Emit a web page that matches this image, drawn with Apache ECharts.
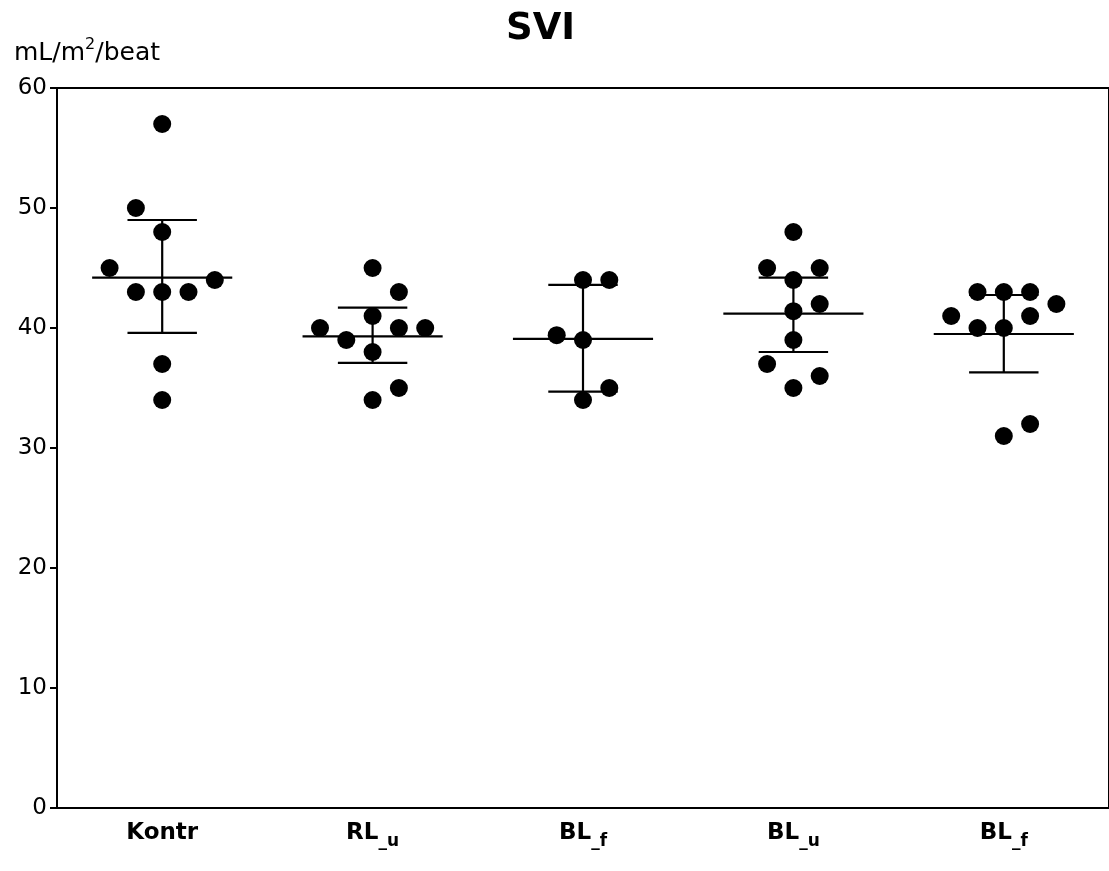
<!DOCTYPE html>
<html>
<head>
<meta charset="utf-8">
<script src="https://cdn.jsdelivr.net/npm/echarts@6/dist/echarts.min.js"></script>
<style>
  html, body { margin: 0; padding: 0; background: #fff; }
  #chart { width: 1109px; height: 871px; }
</style>
</head>
<body>
<div id="chart"></div>
<script>
// Group names along the x axis
const categories = ['Kontr', 'RL_u', 'BL_f', 'BL_u', 'BL_f'];
// Label parts: main text and subscript
const labelMain = ['Kontr', 'RL', 'BL', 'BL', 'BL'];
const labelSub = ['', '_u', '_f', '_u', '_f'];

// Individual SVI values per group (mL/m2/beat) and their column slot within the group
const kontrValues = [57, 50, 48, 45, 44, 43, 43, 43, 37, 34];
const kontrSlots  = [0, -1, 0, -2, 2, -1, 0, 1, 0, 0];
const rlUValues   = [45, 43, 41, 40, 40, 40, 39, 38, 35, 34];
const rlUSlots    = [0, 1, 0, -2, 1, 2, -1, 0, 1, 0];
const blFValues   = [44, 44, 39.4, 39, 35, 34];
const blFSlots    = [0, 1, -1, 0, 1, 0];
const blUValues   = [48, 45, 45, 44, 42, 41.4, 39, 37, 36, 35];
const blUSlots    = [0, -1, 1, 0, 1, 0, 0, -1, 1, 0];
const blF2Values  = [43, 43, 43, 42, 41, 41, 40, 40, 32, 31];
const blF2Slots   = [-1, 0, 1, 2, -2, 1, -1, 0, 1, 0];

// Centre line and error bar limits per group
const centerLine = [44.2, 39.3, 39.1, 41.2, 39.5];
const barLow     = [39.6, 37.1, 34.7, 38.0, 36.3];
const barHigh    = [49.0, 41.7, 43.6, 44.2, 42.75];

// Y axis ticks
const yTicks = [0, 10, 20, 30, 40, 50, 60];

const groupValues = [kontrValues, rlUValues, blFValues, blUValues, blF2Values];
const groupSlots = [kontrSlots, rlUSlots, blFSlots, blUSlots, blF2Slots];
const slotStep = 0.125; // horizontal spacing of side-by-side points, in category units

const points = [];
groupValues.forEach(function (vals, g) {
  vals.forEach(function (v, i) {
    points.push([g + groupSlots[g][i] * slotStep, v]);
  });
});

const barData = categories.map(function (c, i) {
  return [i, centerLine[i], barLow[i], barHigh[i]];
});

const FONT = 'DejaVu Sans';

const chart = echarts.init(document.getElementById('chart'), null, { renderer: 'canvas' });

chart.setOption({
  backgroundColor: '#ffffff',
  animation: false,
  title: [
    {
      text: 'SVI',
      left: 506,
      top: 11,
      padding: 0,
      textStyle: { fontFamily: FONT, fontWeight: 'bold', fontSize: 37, color: '#000' }
    },
    {
      text: 'mL/m{sup|2}/beat',
      left: 14,
      top: 37,
      padding: 0,
      textStyle: {
        fontFamily: FONT, fontWeight: 'normal', fontSize: 25, color: '#000',
        rich: {
          sup: { fontFamily: FONT, fontWeight: 'normal', fontSize: 16, color: '#000', verticalAlign: 'top', lineHeight: 32 }
        }
      }
    }
  ],
  grid: {
    left: 57,
    right: -3,
    top: 88,
    bottom: 63,
    show: true,
    borderColor: '#000',
    borderWidth: 2,
    backgroundColor: 'transparent'
  },
  xAxis: [
    {
      type: 'category',
      data: categories,
      position: 'bottom',
      axisLine: { show: true, lineStyle: { color: '#000', width: 2 } },
      axisTick: { show: false },
      splitLine: { show: false },
      axisLabel: {
        margin: 8,
        formatter: function (value, idx) {
          return labelSub[idx] ? labelMain[idx] + '{sub|' + labelSub[idx] + '}' : labelMain[idx];
        },
        fontFamily: FONT, fontWeight: 'bold', fontSize: 23, color: '#000',
        lineHeight: 34,
        rich: {
          sub: { fontFamily: FONT, fontWeight: 'bold', fontSize: 17, color: '#000', verticalAlign: 'bottom', lineHeight: 17 }
        }
      }
    },
    {
      type: 'value',
      min: -0.5,
      max: 4.5,
      show: false
    }
  ],
  yAxis: {
    type: 'value',
    min: 0,
    max: 60,
    interval: 10,
    axisLine: { show: true, onZero: false, lineStyle: { color: '#000', width: 2 } },
    axisTick: { show: true, inside: false, length: 7, lineStyle: { color: '#000', width: 2 } },
    splitLine: { show: false },
    axisLabel: {
      margin: 10,
      fontFamily: FONT, fontSize: 23, color: '#000',
      formatter: function (v) { return yTicks.indexOf(v) >= 0 ? String(v) : ''; }
    }
  },
  series: [
    {
      type: 'custom',
      xAxisIndex: 1,
      z: 2,
      data: barData,
      renderItem: function (params, api) {
        const g = api.value(0);
        const c = api.coord([g, api.value(1)]);
        const lo = api.coord([g, api.value(2)]);
        const hi = api.coord([g, api.value(3)]);
        const unit = api.size([1, 0])[0];
        const halfMean = unit * 0.333;
        const halfCap = unit * 0.165;
        const style = { stroke: '#000', lineWidth: 2.2 };
        return {
          type: 'group',
          children: [
            { type: 'line', shape: { x1: c[0] - halfMean, y1: c[1], x2: c[0] + halfMean, y2: c[1] }, style: style },
            { type: 'line', shape: { x1: lo[0], y1: lo[1], x2: hi[0], y2: hi[1] }, style: style },
            { type: 'line', shape: { x1: hi[0] - halfCap, y1: hi[1], x2: hi[0] + halfCap, y2: hi[1] }, style: style },
            { type: 'line', shape: { x1: lo[0] - halfCap, y1: lo[1], x2: lo[0] + halfCap, y2: lo[1] }, style: style }
          ]
        };
      }
    },
    {
      type: 'scatter',
      xAxisIndex: 1,
      z: 3,
      symbol: 'circle',
      symbolSize: 18,
      itemStyle: { color: '#000', opacity: 1 },
      data: points
    }
  ]
});
</script>
</body>
</html>
